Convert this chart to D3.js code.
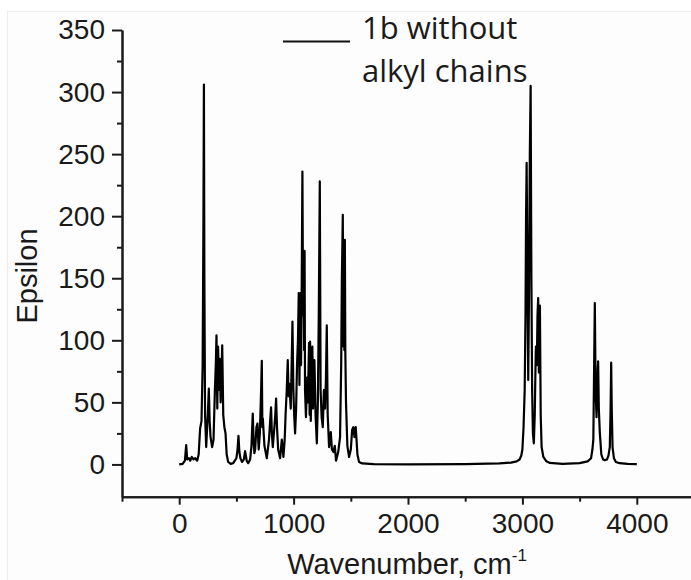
<!DOCTYPE html>
<html>
<head>
<meta charset="utf-8">
<script src="https://cdn.jsdelivr.net/npm/d3@7"></script>
<style>
body { margin: 0; background: #fff; }
svg { display: block; }
.axis text { font-family: "Liberation Sans", Arial, sans-serif; font-size: 28px; fill: #1a1a1a; }
.axis path, .axis line { stroke: #1a1a1a; stroke-width: 2; }
.title { font-family: "Liberation Sans", Arial, sans-serif; font-size: 29px; fill: #1a1a1a; }
.legend text { font-family: "Open Sans", sans-serif; font-size: 31px; fill: #1a1a1a; }
</style>
</head>
<body>
<svg width="691" height="580"></svg>
<script>
// spectrum (wavenumber in cm-1, epsilon)
var wavenumber = [0, 30, 50, 61, 70, 85, 96, 110, 125, 140, 157, 170, 183, 195, 205, 212, 216, 220, 226, 236,
  250, 259, 266, 274, 288, 300, 312, 320, 326, 333, 340, 347, 355, 362, 369, 376, 385, 395, 405, 415,
  428, 450, 472, 500, 510, 518, 526, 535, 550, 565, 576, 590, 603, 620, 632, 643, 650, 657, 664, 675,
  684, 695, 705, 716, 722, 727, 731, 745, 766, 785, 795, 803, 810, 818, 832, 840, 847, 855, 865, 882,
  897, 911, 922, 930, 940, 949, 956, 963, 975, 983, 990, 998, 1005, 1013, 1022, 1030, 1038, 1045, 1051, 1058,
  1065, 1070, 1077, 1083, 1088, 1092, 1096, 1100, 1108, 1118, 1125, 1135, 1140, 1144, 1150, 1158, 1164, 1170, 1176, 1182,
  1192, 1203, 1212, 1220, 1229, 1236, 1245, 1255, 1265, 1275, 1283, 1290, 1298, 1310, 1318, 1325, 1335, 1348, 1360, 1371,
  1390, 1406, 1416, 1422, 1430, 1435, 1440, 1444, 1448, 1452, 1458, 1470, 1485, 1500, 1512, 1522, 1532, 1543, 1550, 1558,
  1572, 1600, 1700, 2000, 2500, 2800, 2900, 2950, 2975, 2990, 3000, 3010, 3020, 3027, 3032, 3037, 3044, 3051, 3058, 3065,
  3072, 3078, 3085, 3092, 3100, 3108, 3113, 3118, 3126, 3132, 3138, 3144, 3153, 3160, 3168, 3183, 3210, 3240, 3350, 3500,
  3570, 3600, 3612, 3620, 3626, 3633, 3640, 3648, 3655, 3662, 3668, 3677, 3690, 3705, 3721, 3740, 3752, 3764, 3771, 3776,
  3781, 3788, 3800, 3817, 3850, 3920, 4000];
var epsilon = [0, 0.5, 3, 15.6, 4, 5, 3, 6, 4, 5, 3, 8, 29, 35, 80, 200, 306, 150, 40, 14,
  40, 61, 35, 22, 14, 20, 60, 80, 104, 45, 95, 60, 85, 50, 70, 96, 40, 30, 25, 8,
  2, 0.5, 1, 5, 12, 23, 10, 5, 2, 4, 10.7, 3, 1, 4, 15, 41, 20, 9, 12, 30,
  33, 12, 25, 60, 83.5, 30, 37, 15, 5, 20, 35, 46, 25, 14, 30, 40, 53, 30, 12, 5,
  20, 6, 20, 40, 60, 84, 55, 65, 45, 80, 115, 60, 40, 25, 45, 80, 100, 138, 64, 138,
  80, 130, 236, 120, 172, 92, 172, 60, 38, 70, 50, 98, 40, 99, 35, 70, 95, 45, 60, 84,
  40, 17, 50, 120, 228, 60, 38, 30, 60, 45, 70, 112, 40, 14, 20, 26, 12, 10, 15, 3,
  10, 22, 80, 150, 201, 95, 181, 92, 181, 92, 50, 15, 6, 12, 28, 30, 22, 30, 20, 8,
  2, 0.8, 0.3, 0.1, 0.3, 0.8, 1.5, 2.5, 4, 7, 12, 30, 60, 120, 200, 243, 150, 68, 140, 250,
  305, 160, 60, 25, 17, 40, 70, 95, 80, 120, 134, 74, 128, 40, 14, 6, 2.5, 1.2, 0.5, 1,
  2.5, 5, 12, 20, 70, 130, 60, 38, 70, 83, 45, 25, 8, 4, 3.5, 4, 7, 14, 45, 82,
  45, 14, 5, 2, 1, 0.4, 0.2];

var xMajor = [0, 1000, 2000, 3000, 4000];
var xMinor = [-500, 500, 1500, 2500, 3500, 4500];
var yMajor = [0, 50, 100, 150, 200, 250, 300, 350];
var yMinor = [25, 75, 125, 175, 225, 275, 325];
var legendLines = ["1b without", "alkyl chains"];
var xTitle = "Wavenumber, cm";
var xTitleSup = "-1";
var yTitle = "Epsilon";

var svg = d3.select("svg");

// faint frame of the original picture
svg.append("rect")
  .attr("x", 7.5).attr("y", 11.5)
  .attr("width", 700).attr("height", 600)
  .attr("fill", "#fdfdfd")
  .attr("stroke", "#ededed");

var x = d3.scaleLinear().domain([-500, 4500]).range([122, 694]),
    y = d3.scaleLinear().domain([-26, 350]).range([496.7, 30]);

var data = wavenumber.map(function(w, i) { return {w: w, e: epsilon[i]}; });

var line = d3.line()
  .x(function(d) { return x(d.w); })
  .y(function(d) { return y(d.e); });

var bottom = y.range()[0], left = x.range()[0];

// minor ticks first, then the major axes on top
svg.append("g").attr("class", "axis")
  .attr("transform", "translate(0," + bottom + ")")
  .call(d3.axisBottom(x).tickValues(xMinor).tickSize(5).tickSizeOuter(0).tickFormat(""));
svg.append("g").attr("class", "axis")
  .attr("transform", "translate(" + left + ",0)")
  .call(d3.axisLeft(y).tickValues(yMinor).tickSize(5).tickSizeOuter(0).tickFormat(""));

svg.append("g").attr("class", "axis axis--x")
  .attr("transform", "translate(0," + bottom + ")")
  .call(d3.axisBottom(x).tickValues(xMajor).tickSize(8).tickPadding(8).tickSizeOuter(0).tickFormat(d3.format("d")));

svg.append("g").attr("class", "axis axis--y")
  .attr("transform", "translate(" + left + ",0)")
  .call(d3.axisLeft(y).tickValues(yMajor).tickSize(10).tickPadding(7).tickSizeOuter(0).tickFormat(d3.format("d")));

svg.append("path")
  .datum(data)
  .attr("fill", "none")
  .attr("stroke", "#000")
  .attr("stroke-width", 2.2)
  .attr("stroke-linejoin", "round")
  .attr("d", line);

// axis titles
var xt = svg.append("text")
  .attr("class", "title")
  .attr("x", 407)
  .attr("y", 574)
  .attr("text-anchor", "middle");
xt.append("tspan").text(xTitle);
xt.append("tspan").attr("dy", -13).style("font-size", "17px").text(xTitleSup);

svg.append("text")
  .attr("class", "title")
  .attr("transform", "translate(37,276) rotate(-90)")
  .attr("text-anchor", "middle")
  .text(yTitle);

// legend
var legend = svg.append("g").attr("class", "legend");
legend.append("line")
  .attr("x1", 283).attr("x2", 350)
  .attr("y1", 41.5).attr("y2", 41.5)
  .attr("stroke", "#111").attr("stroke-width", 2);
legend.selectAll("text")
  .data(legendLines)
  .enter().append("text")
  .attr("x", 362)
  .attr("y", function(d, i) { return 39 + i * 43; })
  .text(function(d) { return d; });
</script>
</body>
</html>
